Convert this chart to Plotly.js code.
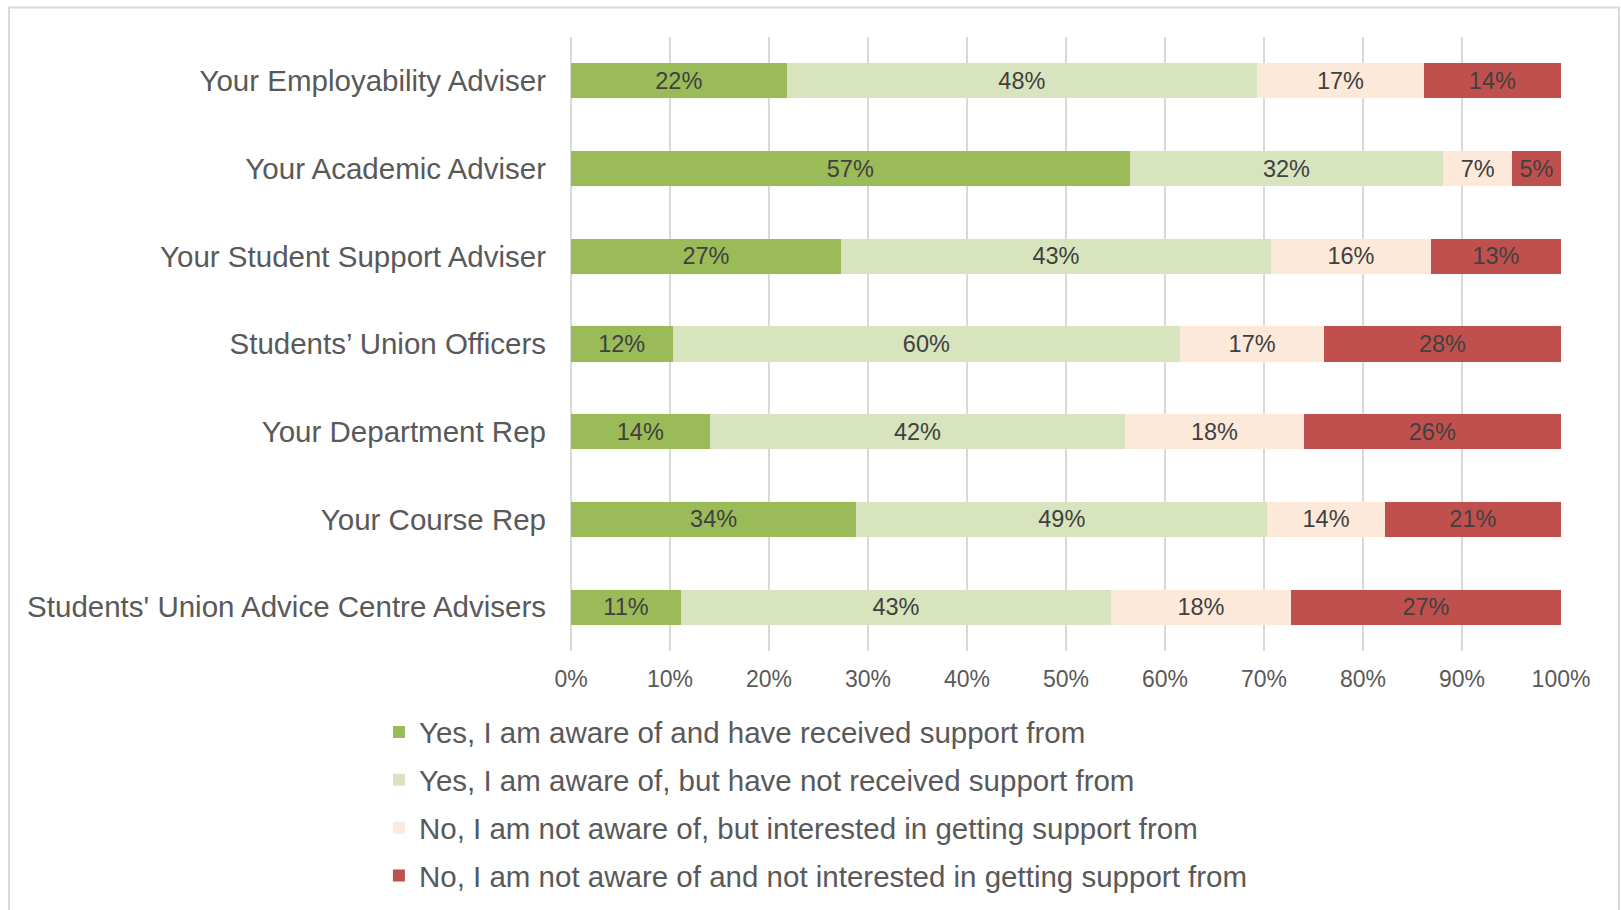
<!DOCTYPE html>
<html>
<head>
<meta charset="utf-8">
<script src="https://cdn.plot.ly/plotly-3.0.1.min.js"></script>
<style>
  body { margin: 0; background: white; }
  #chart { width: 1621px; height: 910px; }
</style>
</head>
<body>
<div id="chart"></div>
<script>
// categories, top to bottom
var categories = [
  'Your Employability Adviser',
  'Your Academic Adviser',
  'Your Student Support Adviser',
  'Students\u2019 Union Officers',
  'Your Department Rep',
  'Your Course Rep',
  "Students' Union Advice Centre Advisers"
]

// answers (raw percentages as labelled, bars get normalised to 100%)
var received      = [22, 57, 27, 12, 14, 34, 11]
var notReceived   = [48, 32, 43, 60, 42, 49, 43]
var interested    = [17, 7, 16, 17, 18, 14, 18]
var notInterested = [14, 5, 13, 28, 26, 21, 27]

var seriesNames = [
  'Yes, I am aware of and have received support from',
  'Yes, I am aware of, but have not received support from',
  'No, I am not aware of, but interested in getting support from',
  'No, I am not aware of and not interested in getting support from'
]
var seriesColors = ['#9BBB59', '#D7E4BD', '#FDE9D9', '#C0504D']
var seriesValues = [received, notReceived, interested, notInterested]

var xTicks = [0, 10, 20, 30, 40, 50, 60, 70, 80, 90, 100]
var xTickLabels = ['0%', '10%', '20%', '30%', '40%', '50%', '60%', '70%', '80%', '90%', '100%']

var fontFam = 'Liberation Sans, Arial, sans-serif'

var traces = []
for (i = 0; i < seriesValues.length; i++) {
  traces.push({
    type: 'bar',
    orientation: 'h',
    y: categories,
    x: seriesValues[i],
    name: seriesNames[i],
    legendgroup: 'g' + i,
    marker: {color: seriesColors[i], line: {width: 0}},
    text: seriesValues[i].map(function(v) { return v + '%' }),
    texttemplate: '%{text}',
    textposition: 'inside',
    insidetextanchor: 'middle',
    textangle: 0,
    textfont: {family: fontFam, size: 23.5, color: '#404040'},
    hoverinfo: 'none'
  })
}

var layout = {
  width: 1621,
  height: 910,
  barmode: 'stack',
  barnorm: 'percent',
  bargap: 0.6,
  showlegend: true,
  legend: {
    orientation: 'v',
    x: -0.194,
    xanchor: 'left',
    y: -0.09,
    yanchor: 'top',
    tracegroupgap: 6.5,
    traceorder: 'grouped',
    font: {family: fontFam, size: 29.5, color: '#595959'},
    bgcolor: 'rgba(0,0,0,0)'
  },
  xaxis: {
    range: [0, 100],
    tickvals: xTicks,
    ticktext: xTickLabels,
    showgrid: true,
    gridcolor: '#D9D9D9',
    gridwidth: 1.5,
    zeroline: true,
    zerolinecolor: '#D9D9D9',
    zerolinewidth: 1.5,
    showline: false,
    ticks: '',
    ticklabelstandoff: 12,
    tickfont: {family: fontFam, size: 23, color: '#595959'},
    fixedrange: true
  },
  yaxis: {
    autorange: 'reversed',
    showgrid: false,
    zeroline: false,
    showline: false,
    ticks: '',
    ticklabelstandoff: 24,
    tickfont: {family: fontFam, size: 29.5, color: '#595959'},
    fixedrange: true
  },
  shapes: [
    // chart frame
    {
      type: 'rect', xref: 'paper', yref: 'paper',
      x0: -0.5677, x1: 1.0586, y0: -0.45, y1: 1.048,
      line: {color: '#D9D9D9', width: 2},
      fillcolor: 'rgba(0,0,0,0)',
      layer: 'below'
    }
  ],
  margin: {l: 571, r: 60, t: 37, b: 259, pad: 0, autoexpand: false},
  paper_bgcolor: 'white',
  plot_bgcolor: 'white'
}

Plotly.newPlot('chart', traces, layout, {displayModeBar: false, staticPlot: true})
</script>
</body>
</html>
